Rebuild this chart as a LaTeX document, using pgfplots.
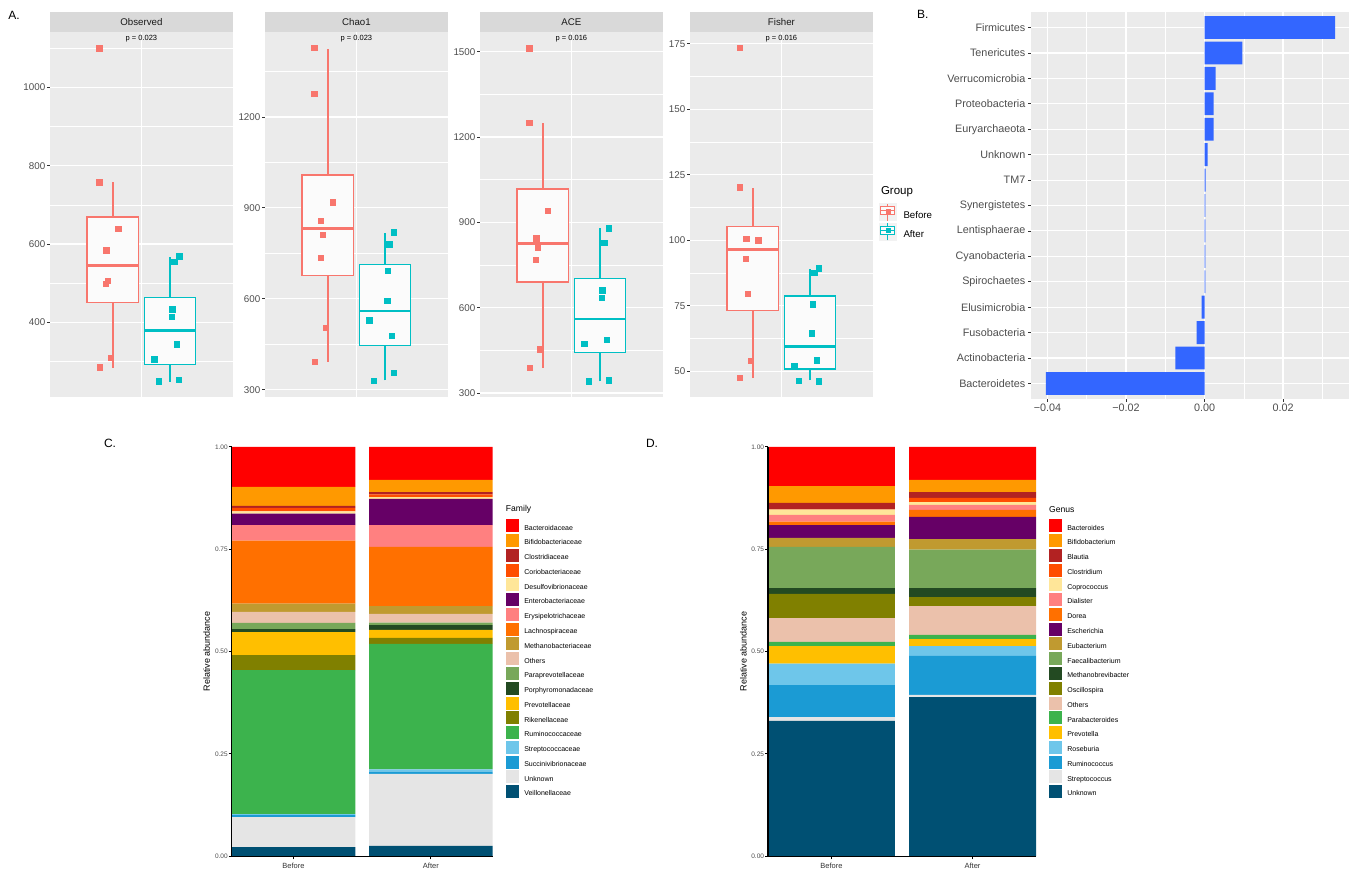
\documentclass[border=0pt]{standalone}
\usepackage{pgfplots}
\pgfplotsset{compat=1.18}
\usepackage{fontspec}
\setmainfont{Liberation Sans}

\definecolor{ggbg}{HTML}{EBEBEB}
\definecolor{ggstrip}{HTML}{D9D9D9}
\definecolor{ggtext}{HTML}{4D4D4D}
\definecolor{ggtick}{HTML}{333333}
\definecolor{keybg}{HTML}{F2F2F2}
\definecolor{cBefore}{HTML}{F8766D}
\definecolor{cAfter}{HTML}{00BFC4}
\definecolor{boxfill}{HTML}{FBFBFB}
\definecolor{barblue}{HTML}{3366FF}
\definecolor{pRed}{HTML}{FF0000}
\definecolor{pOrange}{HTML}{FF9900}
\definecolor{pFire}{HTML}{B22222}
\definecolor{pOrRed}{HTML}{FF4D00}
\definecolor{pLtYel}{HTML}{FFE699}
\definecolor{pPurple}{HTML}{660066}
\definecolor{pPink}{HTML}{FF8080}
\definecolor{pOrange2}{HTML}{FF7000}
\definecolor{pTan}{HTML}{C09A30}
\definecolor{pPeach}{HTML}{EBC1AB}
\definecolor{pLtGreen}{HTML}{78A85A}
\definecolor{pDkGreen}{HTML}{234A22}
\definecolor{pAmber}{HTML}{FFBF00}
\definecolor{pOlive}{HTML}{808000}
\definecolor{pGreen}{HTML}{3CB34D}
\definecolor{pLtBlue}{HTML}{6EC6EA}
\definecolor{pBlue}{HTML}{1B9BD4}
\definecolor{pGrey}{HTML}{E5E5E5}
\definecolor{pNavy}{HTML}{005073}

% box: #1 colour, #2 left, #3 centre, #4 right, #5 lower whisker, #6 Q1, #7 median, #8 Q3, #9 upper whisker
\newcommand{\ggbox}[9]{%
  \addplot[color=#1, line width=1.6pt] coordinates {(#3,#5) (#3,#6)};
  \addplot[color=#1, line width=1.6pt] coordinates {(#3,#8) (#3,#9)};
  \addplot[draw=#1, fill=boxfill, line width=1.4pt] coordinates {(#2,#6) (#4,#6) (#4,#8) (#2,#8)} -- cycle;
  \addplot[color=#1, line width=2.8pt] coordinates {(#2,#7) (#4,#7)};
}

\pgfplotsset{
  facet/.style={
    anchor=south west, scale only axis, width=182.8pt, height=365pt,
    xmin=0.4, xmax=1.6, xtick={1}, xticklabels={},
    xtick style={/pgfplots/major tick length=0pt},
    tick pos=left,
    axis background/.style={fill=ggbg},
    axis line style={draw=none},
    xmajorgrids, ymajorgrids, yminorgrids,
    major grid style={white, line width=1.1pt},
    minor grid style={white, line width=0.55pt},
    tick align=outside, major tick length=3pt, minor tick length=0pt,
    ytick style={color=ggtick, line width=0.8pt},
    yticklabel style={font=\fontsize{9.8}{11}\selectfont, text=ggtext, inner sep=1.5pt},
    /pgf/number format/assume math mode=true, /pgf/number format/1000 sep={},
    clip=false,
  },
  pts/.style={only marks, mark=square*, mark size=2.7pt, color=#1},
  sqleg/.style={legend image code/.code={\fill[##1] (0pt,-4pt) rectangle (13pt,9pt); \path (18.3pt,0pt);}},
  grpleg/.style={legend image code/.code={
      \fill[keybg] (0pt,-5.3pt) rectangle (17pt,11.7pt);
      \draw[color=#1, line width=0.8pt] (8.5pt,-5.3pt) -- (8.5pt,11.7pt);
      \draw[color=#1, line width=0.8pt, fill=boxfill] (1.5pt,0.4pt) rectangle (15.5pt,8.4pt);
      \draw[color=#1, line width=1.2pt] (1.5pt,4.4pt) -- (15.5pt,4.4pt);
      \fill[color=#1] (6.5pt,2.4pt) rectangle (10.5pt,6.4pt);
      \path (24pt,0pt);}},
  stackaxis/.style={
    anchor=south west, scale only axis, height=409.3pt,
    xmin=0.55, xmax=2.45, ymin=0, ymax=1,
    ybar stacked, bar width=0.9,
    axis on top,
    axis x line*=bottom, axis y line*=left,
    axis line style={line width=1.5pt, black, -},
    xtick={1,2}, xticklabels={Before,After},
    ytick={0,0.25,0.5,0.75,1}, yticklabels={0.00,0.25,0.50,0.75,1.00},
    tick align=outside, major tick length=3pt,
    tick style={black, line width=1pt},
    yticklabel style={font=\fontsize{6.5}{7}\selectfont, text=ggtext, inner sep=0.8pt},
    xticklabel style={font=\fontsize{7.5}{8}\selectfont, text=ggtick},
    ylabel={Relative abundance},
    reverse legend, legend cell align=left,
    legend style={anchor=north west, draw=none, fill=none, inner sep=0pt, outer sep=0pt,
      row sep=1.77pt, font=\fontsize{7}{8}\selectfont, nodes={inner sep=0pt}},
  },
}

\begin{document}
\begin{tikzpicture}
\useasboundingbox (0,0) rectangle (1350pt,868pt);

% panel letters
\node[font=\fontsize{12}{13}\selectfont] at (14pt,853pt) {A.};
\node[font=\fontsize{12}{13}\selectfont] at (922.7pt,853.3pt) {B.};
\node[font=\fontsize{12}{13}\selectfont] at (110pt,425pt) {C.};
\node[font=\fontsize{12}{13}\selectfont] at (652pt,425pt) {D.};

% facet strips
\fill[ggstrip] (50pt,836pt) rectangle (232.8pt,856pt);
\node[font=\fontsize{9.7}{10}\selectfont, text=black!90] at (141.4pt,846pt) {Observed};
\fill[ggstrip] (265pt,836pt) rectangle (447.8pt,856pt);
\node[font=\fontsize{9.7}{10}\selectfont, text=black!90] at (356.4pt,846pt) {Chao1};
\fill[ggstrip] (480pt,836pt) rectangle (662.8pt,856pt);
\node[font=\fontsize{9.7}{10}\selectfont, text=black!90] at (571.4pt,846pt) {ACE};
\fill[ggstrip] (690pt,836pt) rectangle (872.8pt,856pt);
\node[font=\fontsize{9.7}{10}\selectfont, text=black!90] at (781.4pt,846pt) {Fisher};

% ---------- Observed
\begin{axis}[facet, at={(50pt,471pt)}, ymin=209.3, ymax=1141.2,
  ytick={400,600,800,1000}, minor ytick={300,500,700,900,1100}]
\ggbox{cBefore}{0.64375}{0.8125}{0.98125}{284}{450}{545.6}{669}{757.6}
\ggbox{cAfter}{1.01875}{1.1875}{1.35625}{248}{292}{380}{463}{566}
\addplot[pts=cBefore] coordinates {(0.722,1100) (0.722,758) (0.847,639) (0.768,584) (0.779,505.5) (0.764,498.6) (0.797,309.6) (0.725,285)};
\addplot[pts=cAfter] coordinates {(1.247,568.6) (1.214,555) (1.203,433) (1.2,415) (1.231,344) (1.083,305.5) (1.115,250) (1.245,253)};
\node[font=\fontsize{7.5}{8}\selectfont] at (axis description cs:0.5,0.981) {p = 0.023};
\end{axis}

% ---------- Chao1
\begin{axis}[facet, at={(265pt,471pt)}, ymin=275.9, ymax=1480.5,
  ytick={300,600,900,1200}, minor ytick={450,750,1050,1350}]
\ggbox{cBefore}{0.64375}{0.8125}{0.98125}{392}{677}{833}{1008}{1425}
\ggbox{cAfter}{1.01875}{1.1875}{1.35625}{331}{446}{560}{713}{816}
\addplot[pts=cBefore] coordinates {(0.723,1428) (0.723,1277) (0.845,919) (0.766,857) (0.779,811) (0.764,735) (0.797,505) (0.727,392)};
\addplot[pts=cAfter] coordinates {(1.245,820) (1.214,780) (1.205,692) (1.201,593) (1.083,530) (1.231,478) (1.245,356) (1.113,329)};
\node[font=\fontsize{7.5}{8}\selectfont] at (axis description cs:0.5,0.981) {p = 0.023};
\end{axis}

% ---------- ACE
\begin{axis}[facet, at={(480pt,471pt)}, ymin=285.9, ymax=1569.3,
  ytick={300,600,900,1200,1500}, minor ytick={450,750,1050,1350}]
\ggbox{cBefore}{0.64375}{0.8125}{0.98125}{389}{690}{825}{1017}{1251}
\ggbox{cAfter}{1.01875}{1.1875}{1.35625}{341}{443}{560}{702}{881}
\addplot[pts=cBefore] coordinates {(0.723,1513) (0.723,1250) (0.845,940) (0.768,844) (0.78,810) (0.764,769) (0.793,454) (0.725,389)};
\addplot[pts=cAfter] coordinates {(1.245,880) (1.214,829) (1.203,661) (1.2,635) (1.083,473) (1.23,488) (1.114,341) (1.243,345)};
\node[font=\fontsize{7.5}{8}\selectfont] at (axis description cs:0.5,0.981) {p = 0.016};
\end{axis}

% ---------- Fisher
\begin{axis}[facet, at={(690pt,471pt)}, ymin=40.2, ymax=179.5,
  ytick={50,75,100,125,150,175}, minor ytick={62.5,87.5,112.5,137.5,162.5},
  legend cell align=left,
  legend style={at={(1.0345,0.531)}, anchor=north west, draw=none, fill=none, inner sep=0pt, outer sep=0pt,
    row sep=2pt, font=\fontsize{9.7}{11}\selectfont, nodes={inner sep=0pt}}]
\addlegendimage{grpleg=cBefore}
\addlegendimage{grpleg=cAfter}
\ggbox{cBefore}{0.64375}{0.8125}{0.98125}{47.4}{73.1}{96.45}{105.3}{120}
\ggbox{cAfter}{1.01875}{1.1875}{1.35625}{46.6}{50.9}{59.5}{78.7}{89.1}
\addplot[pts=cBefore] coordinates {(0.725,173.4) (0.725,120.2) (0.768,100.6) (0.847,100) (0.766,93) (0.779,79.6) (0.797,54) (0.727,47.5)};
\addplot[pts=cAfter] coordinates {(1.243,89.3) (1.214,87.7) (1.205,75.6) (1.2,64.6) (1.231,54.2) (1.085,52.1) (1.113,46.5) (1.245,46.3)};
\node[font=\fontsize{7.5}{8}\selectfont] at (axis description cs:0.5,0.981) {p = 0.016};
\legend{Before,After}
\end{axis}
\node[anchor=west, font=\fontsize{11.5}{12}\selectfont] at (877.5pt,676pt) {Group};

% ---------- Panel B
\begin{axis}[at={(1031pt,469.3pt)}, anchor=south west, scale only axis, width=318pt, height=386.4pt,
  xmin=-0.0442, xmax=0.0368, ymin=0.4, ymax=15.6,
  axis background/.style={fill=ggbg}, axis line style={draw=none},
  scaled x ticks=false, tick pos=left,
  xtick={-0.04,-0.02,0,0.02}, xticklabels={−0.04,−0.02,0.00,0.02},
  minor xtick={-0.03,-0.01,0.01,0.03},
  ytick={1,...,15},
  yticklabels={Bacteroidetes,Actinobacteria,Fusobacteria,Elusimicrobia,Spirochaetes,Cyanobacteria,Lentisphaerae,Synergistetes,TM7,Unknown,Euryarchaeota,Proteobacteria,Verrucomicrobia,Tenericutes,Firmicutes},
  xmajorgrids, xminorgrids, ymajorgrids,
  major grid style={white, line width=1.1pt},
  minor grid style={white, line width=0.55pt},
  tick align=outside, major tick length=3pt, minor tick length=0pt,
  tick style={color=ggtick, line width=0.8pt},
  ticklabel style={font=\fontsize{10.8}{12}\selectfont, text=ggtext},
  yticklabel style={inner sep=2.5pt},
  xticklabel style={inner sep=2.5pt},
  ]
\addplot[xbar, bar width=0.9, fill=barblue, draw=none] coordinates {
  (-0.0404,1) (-0.0074,2) (-0.0020,3) (-0.00076,4) (0.0002,5) (0.0002,6) (0.0002,7) (0.0002,8)
  (0.0003,9) (0.00076,10) (0.0023,11) (0.0023,12) (0.0028,13) (0.00964,14) (0.03325,15)};
\end{axis}

% ---------- Panel C (Family)
\begin{axis}[stackaxis, at={(231.7pt,11.7pt)}, width=261pt,
  ylabel style={at={(axis description cs:-0.0958,0.5)}, anchor=center, font=\fontsize{9}{10}\selectfont},
  legend style={at={(1.051,0.8234)}}]
\addplot[fill=pNavy, draw=none, sqleg] coordinates {(1,0.0227) (2,0.0252)}; \addlegendentry{Veillonellaceae}
\addplot[fill=pGrey, draw=none, sqleg] coordinates {(1,0.0733) (2,0.1759)}; \addlegendentry{Unknown}
\addplot[fill=pBlue, draw=none, sqleg] coordinates {(1,0.0049) (2,0.0058)}; \addlegendentry{Succinivibrionaceae}
\addplot[fill=pLtBlue, draw=none, sqleg] coordinates {(1,0.0024) (2,0.0057)}; \addlegendentry{Streptococcaceae}
\addplot[fill=pGreen, draw=none, sqleg] coordinates {(1,0.3518) (2,0.3061)}; \addlegendentry{Ruminococcaceae}
\addplot[fill=pOlive, draw=none, sqleg] coordinates {(1,0.0367) (2,0.0147)}; \addlegendentry{Rikenellaceae}
\addplot[fill=pAmber, draw=none, sqleg] coordinates {(1,0.0562) (2,0.0195)}; \addlegendentry{Prevotellaceae}
\addplot[fill=pDkGreen, draw=none, sqleg] coordinates {(1,0.0073) (2,0.0122)}; \addlegendentry{Porphyromonadaceae}
\addplot[fill=pLtGreen, draw=none, sqleg] coordinates {(1,0.0147) (2,0.0056)}; \addlegendentry{Paraprevotellaceae}
\addplot[fill=pPeach, draw=none, sqleg] coordinates {(1,0.0269) (2,0.0213)}; \addlegendentry{Others}
\addplot[fill=pTan, draw=none, sqleg] coordinates {(1,0.0202) (2,0.0195)}; \addlegendentry{Methanobacteriaceae}
\addplot[fill=pOrange2, draw=none, sqleg] coordinates {(1,0.1540) (2,0.1442)}; \addlegendentry{Lachnospiraceae}
\addplot[fill=pPink, draw=none, sqleg] coordinates {(1,0.0383) (2,0.0537)}; \addlegendentry{Erysipelotrichaceae}
\addplot[fill=pPurple, draw=none, sqleg] coordinates {(1,0.0276) (2,0.0636)}; \addlegendentry{Enterobacteriaceae}
\addplot[fill=pLtYel, draw=none, sqleg] coordinates {(1,0.0058) (2,0.0048)}; \addlegendentry{Desulfovibrionaceae}
\addplot[fill=pOrRed, draw=none, sqleg] coordinates {(1,0.0082) (2,0.0065)}; \addlegendentry{Coriobacteriaceae}
\addplot[fill=pFire, draw=none, sqleg] coordinates {(1,0.0049) (2,0.0057)}; \addlegendentry{Clostridiaceae}
\addplot[fill=pOrange, draw=none, sqleg] coordinates {(1,0.0464) (2,0.0294)}; \addlegendentry{Bifidobacteriaceae}
\addplot[fill=pRed, draw=none, sqleg] coordinates {(1,0.0977) (2,0.0806)}; \addlegendentry{Bacteroidaceae}
\end{axis}
\node[anchor=west, font=\fontsize{8.6}{9}\selectfont, inner sep=0pt] at (505.7pt,358.3pt) {Family};

% ---------- Panel D (Genus)
\begin{axis}[stackaxis, at={(768pt,11.7pt)}, width=268pt,
  ylabel style={at={(axis description cs:-0.0922,0.5)}, anchor=center, font=\fontsize{9}{10}\selectfont},
  legend style={at={(1.0485,0.8234)}}]
\addplot[fill=pNavy, draw=none, sqleg] coordinates {(1,0.3306) (2,0.3892)}; \addlegendentry{Unknown}
\addplot[fill=pGrey, draw=none, sqleg] coordinates {(1,0.0097) (2,0.0049)}; \addlegendentry{Streptococcus}
\addplot[fill=pBlue, draw=none, sqleg] coordinates {(1,0.0782) (2,0.0953)}; \addlegendentry{Ruminococcus}
\addplot[fill=pLtBlue, draw=none, sqleg] coordinates {(1,0.0521) (2,0.0244)}; \addlegendentry{Roseburia}
\addplot[fill=pAmber, draw=none, sqleg] coordinates {(1,0.0432) (2,0.0171)}; \addlegendentry{Prevotella}
\addplot[fill=pGreen, draw=none, sqleg] coordinates {(1,0.0098) (2,0.0098)}; \addlegendentry{Parabacteroides}
\addplot[fill=pPeach, draw=none, sqleg] coordinates {(1,0.0586) (2,0.0708)}; \addlegendentry{Others}
\addplot[fill=pOlive, draw=none, sqleg] coordinates {(1,0.0587) (2,0.0220)}; \addlegendentry{Oscillospira}
\addplot[fill=pDkGreen, draw=none, sqleg] coordinates {(1,0.0146) (2,0.0220)}; \addlegendentry{Methanobrevibacter}
\addplot[fill=pLtGreen, draw=none, sqleg] coordinates {(1,0.1002) (2,0.0936)}; \addlegendentry{Faecalibacterium}
\addplot[fill=pTan, draw=none, sqleg] coordinates {(1,0.0220) (2,0.0261)}; \addlegendentry{Eubacterium}
\addplot[fill=pPurple, draw=none, sqleg] coordinates {(1,0.0317) (2,0.0538)}; \addlegendentry{Escherichia}
\addplot[fill=pOrange2, draw=none, sqleg] coordinates {(1,0.0082) (2,0.0171)}; \addlegendentry{Dorea}
\addplot[fill=pPink, draw=none, sqleg] coordinates {(1,0.0163) (2,0.0122)}; \addlegendentry{Dialister}
\addplot[fill=pLtYel, draw=none, sqleg] coordinates {(1,0.0129) (2,0.0073)}; \addlegendentry{Coprococcus}
\addplot[fill=pOrRed, draw=none, sqleg] coordinates {(1,0.0010) (2,0.0098)}; \addlegendentry{Clostridium}
\addplot[fill=pFire, draw=none, sqleg] coordinates {(1,0.0154) (2,0.0146)}; \addlegendentry{Blautia}
\addplot[fill=pOrange, draw=none, sqleg] coordinates {(1,0.0415) (2,0.0294)}; \addlegendentry{Bifidobacterium}
\addplot[fill=pRed, draw=none, sqleg] coordinates {(1,0.0953) (2,0.0806)}; \addlegendentry{Bacteroides}
\end{axis}
\node[anchor=west, font=\fontsize{8.6}{9}\selectfont, inner sep=0pt] at (1049pt,358.3pt) {Genus};

\end{tikzpicture}
\end{document}
